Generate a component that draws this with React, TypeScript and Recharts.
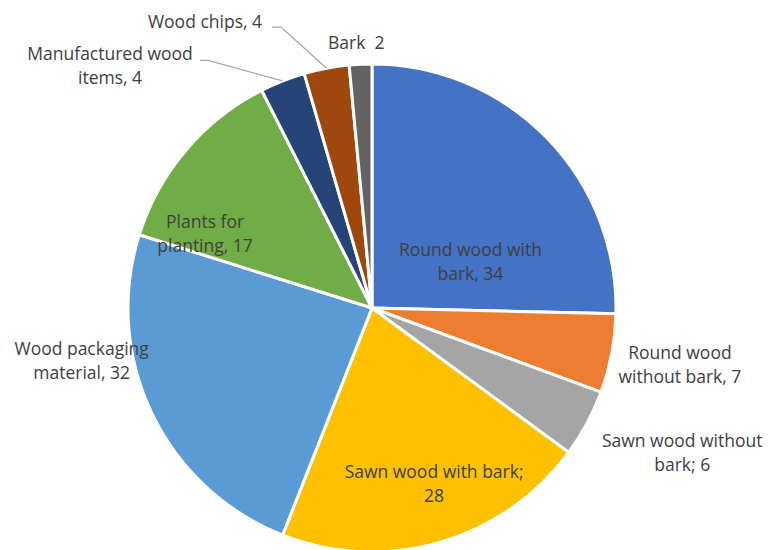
import React from "react";
import { PieChart, Pie, Cell } from "recharts";

const categories = [
  "Round wood with bark",
  "Round wood without bark",
  "Sawn wood without bark",
  "Sawn wood with bark",
  "Wood packaging material",
  "Plants for planting",
  "Manufactured wood items",
  "Wood chips",
  "Bark",
];
const values = [34, 7, 6, 28, 32, 17, 4, 4, 2];
const labelLines = [
  ["Round wood with", "bark, 34"],
  ["Round wood", "without bark, 7"],
  ["Sawn wood without", "bark; 6"],
  ["Sawn wood with bark;", "28"],
  ["Wood packaging", "material, 32"],
  ["Plants for", "planting, 17"],
  ["Manufactured wood", "items, 4"],
  ["Wood chips, 4"],
  ["Bark\u00a0\u00a02"],
];
const colors = [
  "#4472C4",
  "#ED7D31",
  "#A5A5A5",
  "#FFC000",
  "#5B9BD5",
  "#70AD47",
  "#264478",
  "#9E480E",
  "#636363",
];

// label placement: polar (radius px, angle deg) from the pie centre
const labelPlace = [
  { r: 109, a: 25.4 },
  { r: 313, a: -10.3 },
  { r: 342, a: -24.9 },
  { r: 186, a: -70.5 },
  { r: 295, a: 190.2 },
  { r: 183, a: 155.8 },
  { r: 357, a: 137.2 },
  { r: 332, a: 120.2 },
  { r: 266, a: 93.4 },
];
// leader line: stub start offset from label centre, stub length
const leaders: Record<number, { dx: number; len: number; dy: number }> = {
  6: { dx: 90, len: 8, dy: -5 },
  7: { dx: 67, len: 9, dy: 6 },
};

const data = categories.map((name, i) => ({ name, value: values[i] }));

const RAD = Math.PI / 180;

const renderLabel = (props: any) => {
  const { cx, cy, outerRadius, midAngle, index } = props;
  const p = labelPlace[index];
  const x = cx + p.r * Math.cos(p.a * RAD);
  const y = cy - p.r * Math.sin(p.a * RAD);
  const lines = labelLines[index];
  const lh = 24;
  const y0 = y - ((lines.length - 1) * lh) / 2;
  const ld = leaders[index];
  let leader = null;
  if (ld) {
    const sx = x + ld.dx;
    const sy = y + ld.dy;
    const ex = cx + outerRadius * Math.cos(midAngle * RAD);
    const ey = cy - outerRadius * Math.sin(midAngle * RAD);
    leader = (
      <polyline
        points={`${sx},${sy} ${sx + ld.len},${sy} ${ex},${ey}`}
        fill="none"
        stroke="#A6A6A6"
        strokeWidth={1.3}
      />
    );
  }
  return (
    <g key={`lbl-${index}`}>
      {leader}
      <text
        x={x}
        y={y0}
        textAnchor="middle"
        dominantBaseline="central"
        fill="#404040"
        fontSize={17.5}
        fontFamily="'Open Sans', sans-serif"
      >
        {lines.map((l, k) => (
          <tspan key={k} x={x} y={y0 + k * lh}>
            {l}
          </tspan>
        ))}
      </text>
    </g>
  );
};

export default function App() {
  return (
    <div style={{ position: "absolute", left: 0, top: 0, background: "#fff" }}>
      <PieChart
        width={768}
        height={550}
        margin={{ top: 0, right: 0, bottom: 0, left: 0 }}
      >
        <Pie
          data={data}
          dataKey="value"
          nameKey="name"
          cx={372}
          cy={308}
          outerRadius={244}
          startAngle={90}
          endAngle={-270}
          stroke="#fff"
          strokeWidth={3}
          label={renderLabel}
          labelLine={false}
          isAnimationActive={false}
        >
          {data.map((d, i) => (
            <Cell key={d.name} fill={colors[i]} />
          ))}
        </Pie>
      </PieChart>
    </div>
  );
}
